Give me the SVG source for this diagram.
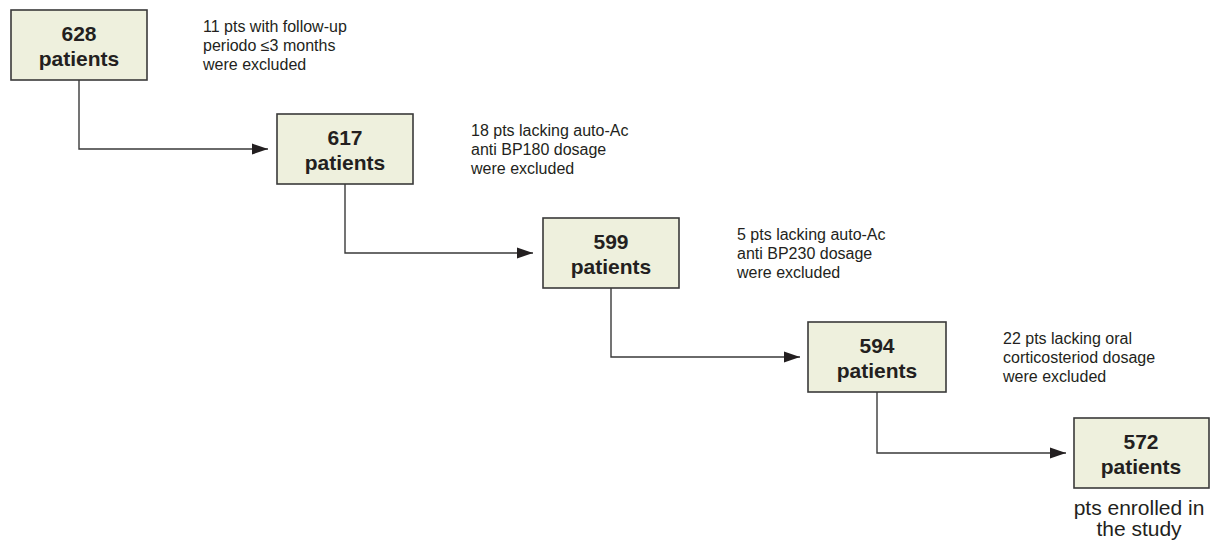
<svg xmlns="http://www.w3.org/2000/svg" width="1210" height="543" viewBox="0 0 1210 543">
<style>
.box{fill:#eef0dd;stroke:#3a3a3a;stroke-width:1.6}
.num{font-family:"Liberation Sans",Arial,sans-serif;font-weight:bold;font-size:21px;fill:#231f20;text-anchor:middle}
.note{font-family:"Liberation Sans",Arial,sans-serif;font-size:16px;fill:#231f20}
.big{font-family:"Liberation Sans",Arial,sans-serif;font-size:21px;fill:#231f20;text-anchor:middle}
.conn{fill:none;stroke:#3a3a3a;stroke-width:1.4}
</style>
<defs>
<marker id="arr" markerUnits="userSpaceOnUse" markerWidth="16" markerHeight="12" refX="16" refY="6" orient="auto">
<polygon points="0,0.5 16,6 0,11.5" fill="#231f20"/>
</marker>
</defs>
<rect width="1210" height="543" fill="#ffffff"/>
<g id="connectors">
<path class="conn" d="M79 80 V149 H268" marker-end="url(#arr)"/>
<path class="conn" d="M345 184 V253 H533" marker-end="url(#arr)"/>
<path class="conn" d="M611 288 V357 H800" marker-end="url(#arr)"/>
<path class="conn" d="M877 392 V453 H1066" marker-end="url(#arr)"/>
</g>
<g id="n628">
<rect class="box" x="11" y="10" width="136" height="70"/>
<text class="num" x="79" y="40.5">628</text>
<text class="num" x="79" y="66">patients</text>
</g>
<g id="note1">
<text class="note" x="203" y="32">11 pts with follow-up</text>
<text class="note" x="203" y="51">periodo ≤3 months</text>
<text class="note" x="203" y="70">were excluded</text>
</g>
<g id="n617">
<rect class="box" x="277" y="114" width="136" height="70"/>
<text class="num" x="345" y="144.5">617</text>
<text class="num" x="345" y="170">patients</text>
</g>
<g id="note2">
<text class="note" x="471" y="136">18 pts lacking auto-Ac</text>
<text class="note" x="471" y="155">anti BP180 dosage</text>
<text class="note" x="471" y="174">were excluded</text>
</g>
<g id="n599">
<rect class="box" x="543" y="218" width="136" height="70"/>
<text class="num" x="611" y="248.5">599</text>
<text class="num" x="611" y="274">patients</text>
</g>
<g id="note3">
<text class="note" x="737" y="240">5 pts lacking auto-Ac</text>
<text class="note" x="737" y="259">anti BP230 dosage</text>
<text class="note" x="737" y="278">were excluded</text>
</g>
<g id="n594">
<rect class="box" x="808" y="322" width="138" height="70"/>
<text class="num" x="877" y="352.5">594</text>
<text class="num" x="877" y="378">patients</text>
</g>
<g id="note4">
<text class="note" x="1003" y="344">22 pts lacking oral</text>
<text class="note" x="1003" y="363">corticosteriod dosage</text>
<text class="note" x="1003" y="382">were excluded</text>
</g>
<g id="n572">
<rect class="box" x="1074" y="418" width="135" height="70"/>
<text class="num" x="1141" y="448.5">572</text>
<text class="num" x="1141" y="474">patients</text>
<text class="big" x="1139" y="515">pts enrolled in</text>
<text class="big" x="1139" y="536">the study</text>
</g>
</svg>
